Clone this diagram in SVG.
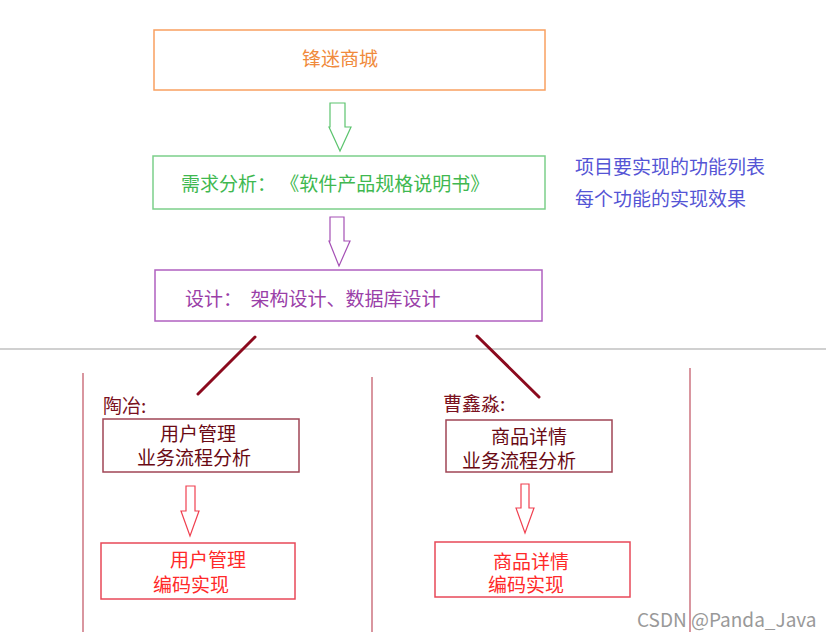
<svg xmlns="http://www.w3.org/2000/svg" width="826" height="640" viewBox="0 0 826 640">
<style>
text{font-family:"Noto Sans CJK SC","Noto Sans",sans-serif;font-size:19px}
.box{fill:#fff;stroke-width:1.5}
.arr{fill:#fff;stroke-width:1.2}
</style>
<rect width="826" height="640" fill="#fff"/>
<g id="connectors">
<line x1="0" y1="349" x2="826" y2="349" stroke="#c0c0c0" stroke-width="1.5"/>
<line x1="255" y1="337" x2="198" y2="394" stroke="#8b0a1e" stroke-width="3" stroke-linecap="round"/>
<line x1="477" y1="336" x2="539" y2="397" stroke="#8b0a1e" stroke-width="3" stroke-linecap="round"/>
<line x1="83" y1="373" x2="83" y2="632" stroke="#c05060" stroke-width="1.2"/>
<line x1="372" y1="377" x2="372" y2="632" stroke="#c05060" stroke-width="1.2"/>
<line x1="690" y1="368" x2="690" y2="632" stroke="#c05060" stroke-width="1.2"/>
<polygon class="arr" stroke="#5cc46e" points="330,103 345,103 345,127 351,127 340,151 329,127 330,127"/>
<polygon class="arr" stroke="#a550b5" points="330,217 344,217 344,241 350,241 339,266 329,241 330,241"/>
<polygon class="arr" stroke="#f04050" points="186,486 195,486 195,511 199,511 190,536 181,511 186,511"/>
<polygon class="arr" stroke="#f04050" points="521,484 529,484 529,508 534,508 525,533 516,508 521,508"/>
</g>
<g id="n1">
<rect class="box" x="154" y="30" width="391" height="60" stroke="#f9a060"/>
<text x="340" y="66" text-anchor="middle" fill="#f08a3c">锋迷商城</text>
</g>
<g id="n2">
<rect class="box" x="153" y="156" width="392" height="53" stroke="#7ccf8a"/>
<text x="181" y="191" fill="#40b850" xml:space="preserve">需求分析： 《软件产品规格说明书》</text>
</g>
<g id="n3">
<rect class="box" x="155" y="270" width="387" height="51" stroke="#b060c0"/>
<text x="185" y="306" fill="#9a40a8" xml:space="preserve">设计：  架构设计、数据库设计</text>
</g>
<g id="note">
<text x="575" y="174" fill="#5555d5">项目要实现的功能列表</text>
<text x="575" y="206" fill="#5555d5">每个功能的实现效果</text>
</g>
<g id="n4">
<text x="103" y="413" fill="#7a1020" font-size="17">陶冶:</text>
<rect class="box" x="103" y="419" width="196" height="53" stroke="#a04555"/>
<text x="160" y="441" fill="#6a0a14">用户管理</text>
<text x="137" y="465" fill="#6a0a14">业务流程分析</text>
</g>
<g id="n5">
<rect class="box" x="101" y="543" width="194" height="56" stroke="#e84858"/>
<text x="170" y="567" fill="#ff2a2a">用户管理</text>
<text x="153" y="592" fill="#ff2a2a">编码实现</text>
</g>
<g id="n6">
<text x="443" y="411" fill="#7a1020" font-size="17">曹鑫淼:</text>
<rect class="box" x="446" y="420" width="166" height="52" stroke="#a04555"/>
<text x="491" y="444" fill="#6a0a14">商品详情</text>
<text x="462" y="468" fill="#6a0a14">业务流程分析</text>
</g>
<g id="n7">
<rect class="box" x="435" y="542" width="195" height="55" stroke="#e84858"/>
<text x="493" y="569" fill="#ff2a2a">商品详情</text>
<text x="488" y="592" fill="#ff2a2a">编码实现</text>
</g>
<text x="637" y="627" fill="#999" font-family="'Open Sans',sans-serif" font-size="16">CSDN @Panda_Java</text>
</svg>
